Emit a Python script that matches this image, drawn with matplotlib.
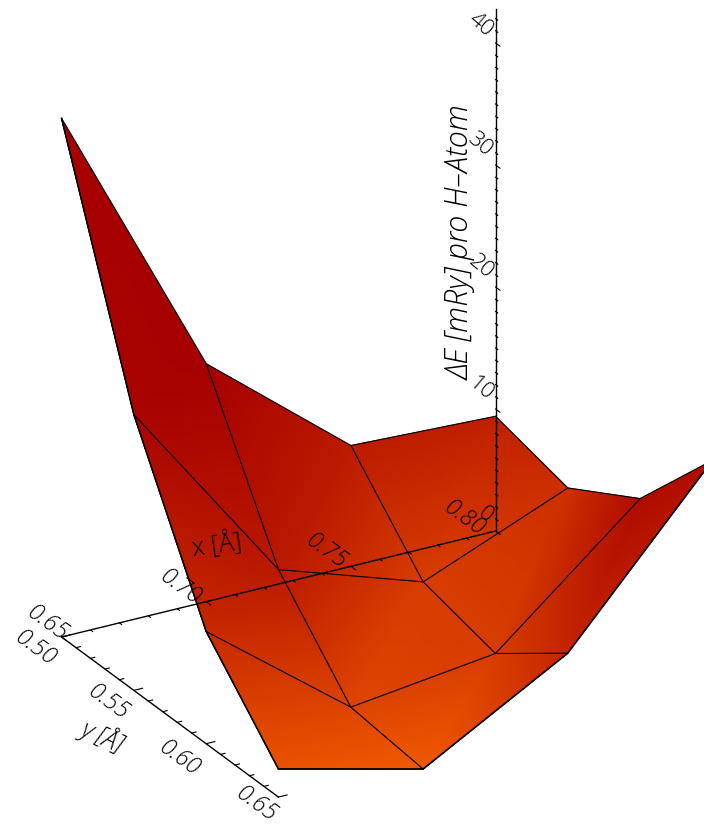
import matplotlib
matplotlib.use('Agg')
import matplotlib.pyplot as plt
from matplotlib.colors import LinearSegmentedColormap
from mpl_toolkits.mplot3d import proj3d
import numpy as np

# grid of the calculation
x_grid = [0.65, 0.70, 0.75, 0.80]
y_grid = [0.50, 0.55, 0.60, 0.65]

# energy in mRy, rows follow x, columns follow y
energy = np.array([
    [42.5, 22.6, 9.2, 2.3],
    [19.5, 7.0, 0.1, -0.6],
    [9.9, 3.1, 1.6, 6.0],
    [9.4, 7.9, 11.4, 18.9],
])

# shade value on every node, 0 is dark red, 1 is orange
shade = np.array([
    [0.00, 0.04, 0.45, 0.92],
    [0.00, 0.28, 0.75, 1.00],
    [0.30, 0.68, 0.68, 0.40],
    [0.36, 0.52, 0.12, 0.15],
])

x_labels = ['0.65', '0.70', '0.75', '0.80']
y_labels = ['0.50', '0.55', '0.60', '0.65']
z_labels = ['0', '10', '20', '30', '40']
z_major = [0, 10, 20, 30, 40]

XLIM = (0.65, 0.80)
YLIM = (0.50, 0.65)
ZLIM = (0, 42.8)

W, H = 704, 828
TICK = 0.003
FONT = {'family': ['Open Sans', 'DejaVu Sans'], 'weight': 'light', 'color': 'black'}

fig = plt.figure(figsize=(W / 100, H / 100), dpi=100)
pos = [-38.2 / W, -1.1 / H, H / W, 1.0]

ax = fig.add_axes(pos, projection='3d', proj_type='ortho', zorder=2)
ax.view_init(elev=-25.12, azim=-60.09)
ax.set_xlim(*XLIM)
ax.set_ylim(*YLIM)
ax.set_zlim(*ZLIM)
box = np.array([500.7, 434.9, 576.8]) / (H / 0.185 / 10)
ax.set_box_aspect(box, zoom=np.linalg.norm(box) / (1.8294640721620434 * 25 / 24))
ax.set_axis_off()
ax.patch.set_visible(False)

# the smooth colours go on a plain axes under the 3d one, same coordinates
bg = fig.add_axes(pos, zorder=1)
X, Y = np.meshgrid(x_grid, y_grid, indexing='ij')
xp, yp, _ = proj3d.proj_transform(X.ravel(), Y.ravel(), energy.ravel(), ax.get_proj())
xp, yp = np.array(xp), np.array(yp)

triangles = []
for i in range(3):
    for j in range(3):
        a, b, c, d = i * 4 + j, i * 4 + j + 1, (i + 1) * 4 + j, (i + 1) * 4 + j + 1
        triangles.append([a, b, c])
        triangles.append([b, d, c])

cmap = LinearSegmentedColormap.from_list('surf', ['#a60000', '#f05a00'])
bg.tripcolor(xp, yp, triangles, shade.ravel(), shading='gouraud', cmap=cmap, vmin=0, vmax=1)
bg.set_xlim(-0.095, 0.09)
bg.set_ylim(-0.095, 0.09)
bg.set_axis_off()

# wire mesh
for i in range(4):
    ax.plot(X[i], Y[i], energy[i], color='k', lw=0.8)
for j in range(4):
    ax.plot(X[:, j], Y[:, j], energy[:, j], color='k', lw=0.8)
ax.plot(X[0], Y[0], energy[0], color='k', lw=1.1)
ax.plot(X[:, 3], Y[:, 3], energy[:, 3], color='k', lw=1.1)

# axes lines
ax.plot(XLIM, [YLIM[0]] * 2, [0, 0], color='k', lw=1.0)
ax.plot([XLIM[0]] * 2, YLIM, [0, 0], color='k', lw=1.0)
ax.plot([XLIM[1]] * 2, [YLIM[0]] * 2, ZLIM, color='k', lw=1.0)

for k, v in enumerate(np.linspace(XLIM[0], XLIM[1], 16)):
    size = TICK if k % 5 == 0 else TICK / 2
    ax.plot([v, v], [YLIM[0], YLIM[0] + size], [0, 0], color='k', lw=0.8)
for k, v in enumerate(np.linspace(YLIM[0], YLIM[1], 16)):
    size = TICK if k % 5 == 0 else TICK / 2
    ax.plot([XLIM[0], XLIM[0] + size], [v, v], [0, 0], color='k', lw=0.8)
for v in range(43):
    size = TICK if v in z_major else TICK / 2
    ax.plot([XLIM[1]] * 2, [YLIM[0], YLIM[0] + size], [v, v], color='k', lw=0.8)


def put_text(x, y, z, dx, dy, s, rot, size=17, **kw):
    px, py, _ = proj3d.proj_transform(x, y, z, ax.get_proj())
    bg.annotate(s, xy=(px, py), xycoords='data', xytext=(dx, -dy), textcoords='offset pixels',
                rotation=rot, rotation_mode='anchor', ha='center', va='center',
                fontsize=size, annotation_clip=False, **FONT, **kw)


x_off = [(-15, -15), (-26, -15), (-25, -16), (-32, -14)]
y_off = [(-27, 10), (-26, 11), (-27, 14), (-22, 6)]
z_off = [(-10, -17), (-14, -21), (-15, -21), (-15, -21), (-15, -19)]

for v, s, off in zip(x_grid, x_labels, x_off):
    put_text(v, YLIM[0], 0, off[0], off[1], s, -36, style='italic')
for v, s, off in zip(y_grid, y_labels, y_off):
    put_text(XLIM[0], v, 0, off[0], off[1], s, -36, style='italic')
for v, s, off in zip(z_major, z_labels, z_off):
    put_text(XLIM[1], YLIM[0], v, off[0], off[1], s, -40, size=16)

put_text(XLIM[0] + 0.0525, YLIM[0], 0, 4, -55, 'x [Å]', 8, size=18)
put_text(XLIM[0], YLIM[0] + 0.075, 0, -67, 17, 'y [Å]', -25, size=18, style='italic')
put_text(XLIM[1], YLIM[0], 21, -35, -34, 'ΔE [mRy] pro H–Atom', 90, size=22, style='italic')

fig.savefig('out.png', dpi=100, facecolor='white')
